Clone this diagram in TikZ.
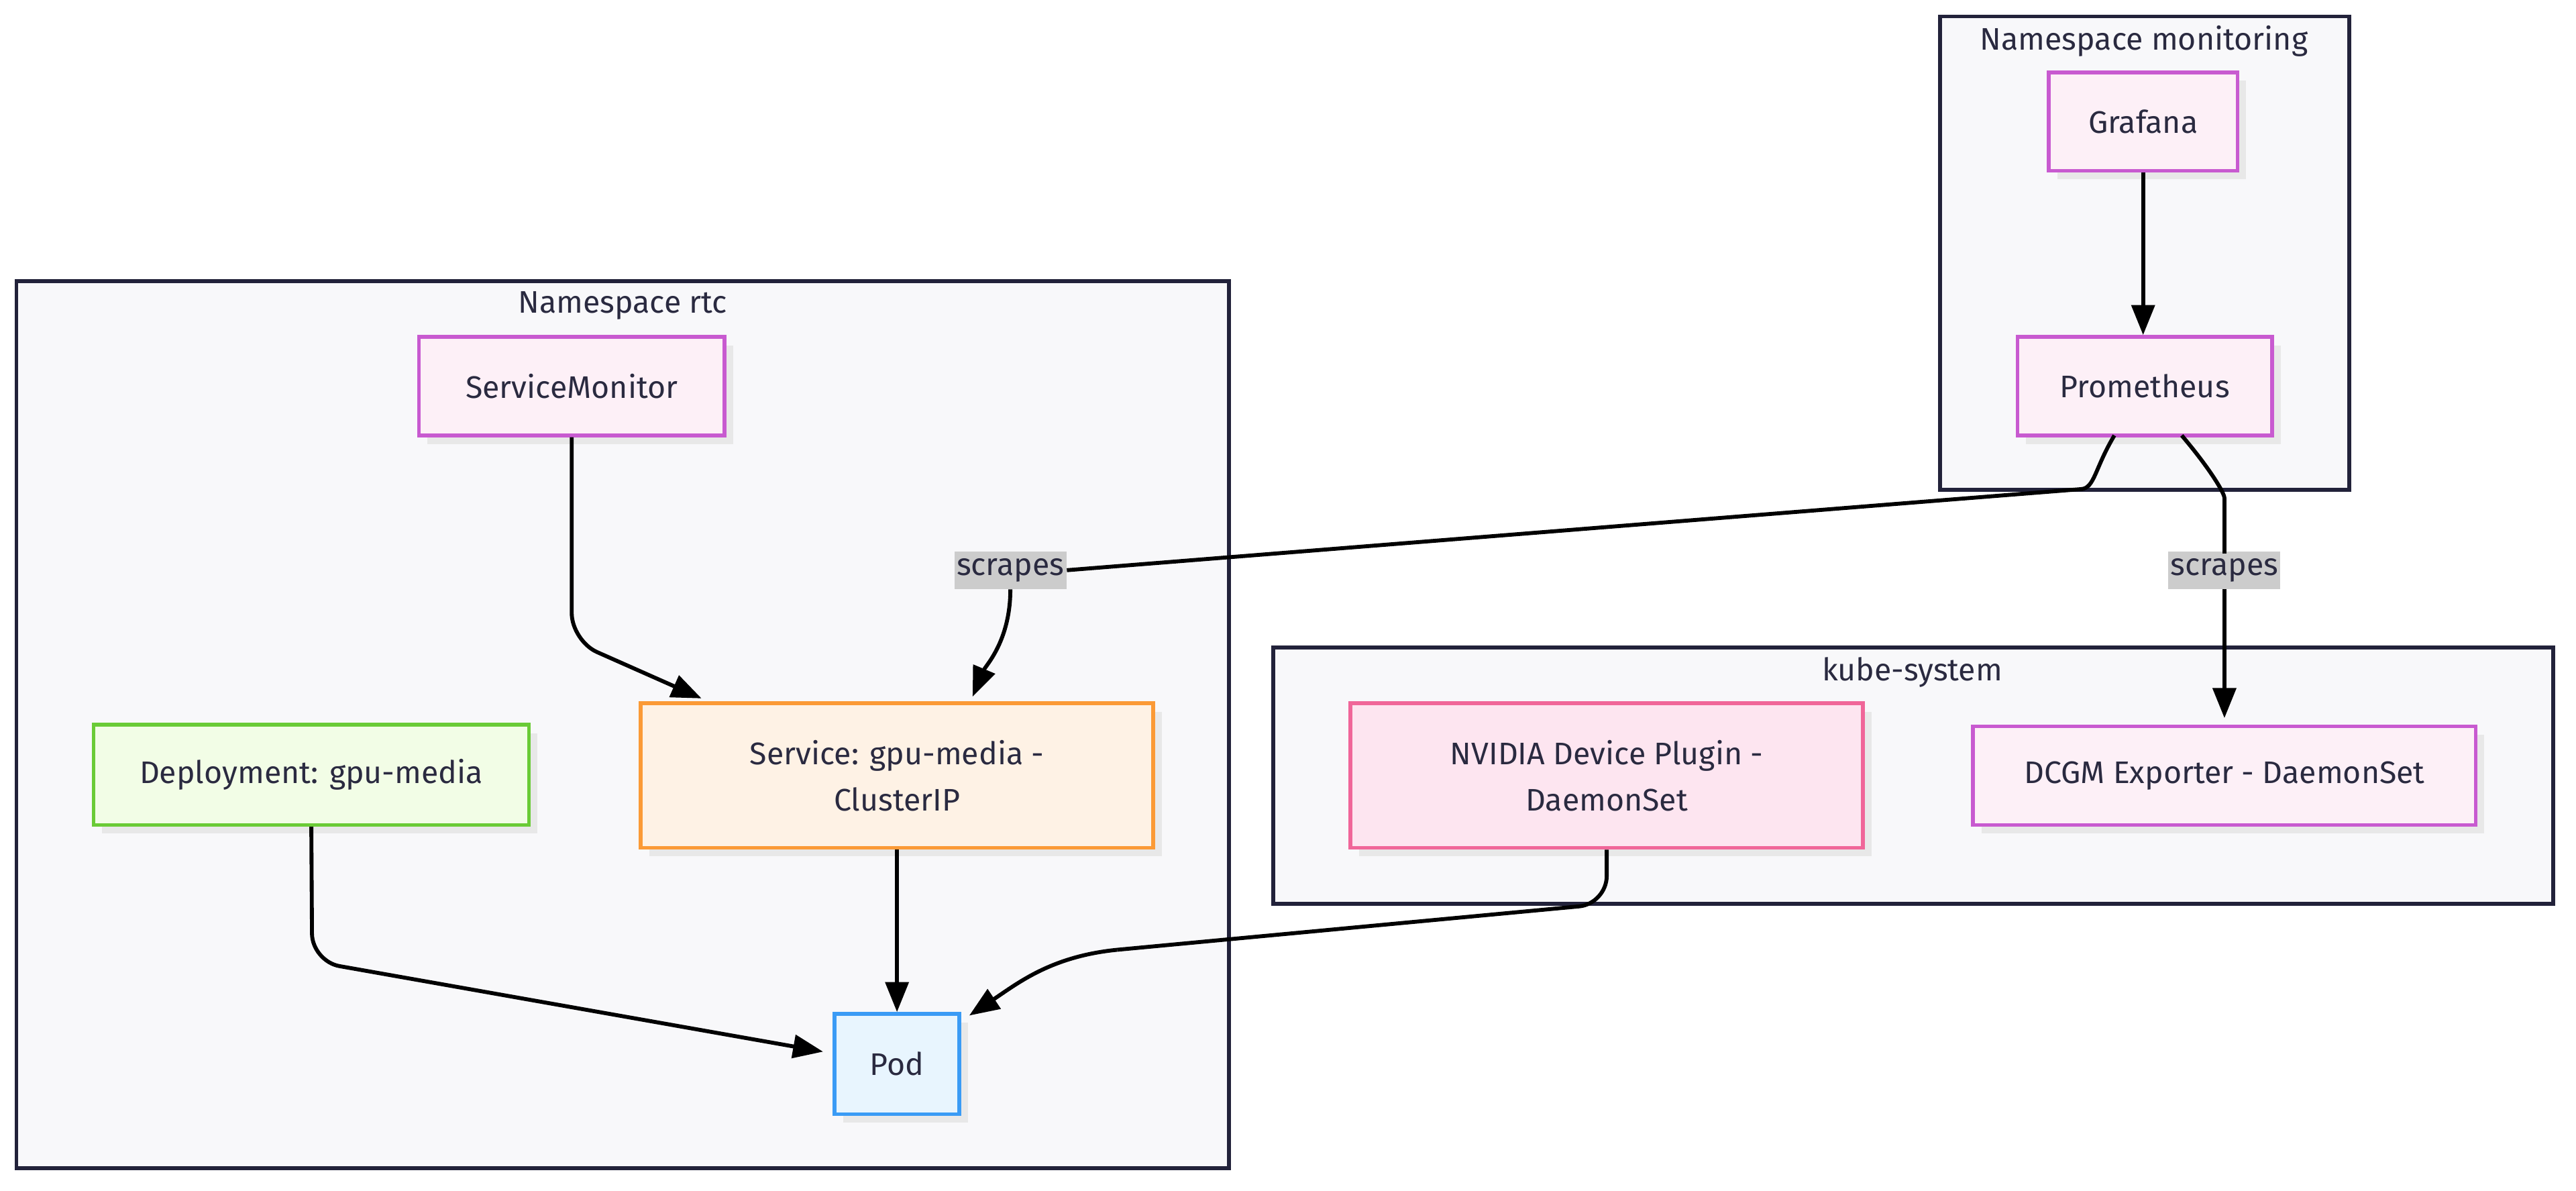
\documentclass[tikz,border=0pt]{standalone}
\usepackage{fontspec}
\setmainfont{Fira Sans}
\usetikzlibrary{arrows.meta,shadows}
\definecolor{txt}{HTML}{2A2A40}
\definecolor{frame}{HTML}{22223A}
\definecolor{framefill}{HTML}{F8F8FA}
\definecolor{purp}{HTML}{C85AD0}\definecolor{purpf}{HTML}{FDF0F7}
\definecolor{oran}{HTML}{FB9A36}\definecolor{oranf}{HTML}{FEF2E5}
\definecolor{gree}{HTML}{6ACB36}\definecolor{greef}{HTML}{F2FDE6}
\definecolor{blu}{HTML}{3A9BF5}\definecolor{bluf}{HTML}{E8F5FE}
\definecolor{pink}{HTML}{F06699}\definecolor{pinkf}{HTML}{FDE5F0}
\newcommand\mybox[7]{\node[#6, drop shadow={shadow xshift=0.13cm,shadow yshift=-0.13cm,fill=black!9,opacity=1},
  minimum width={(#4-#2)*0.025cm}, minimum height={(#5-#3)*0.025cm}] (#1) at ({(#2+#4)/2},{(#3+#5)/2}) {#7};}
\begin{document}
\begin{tikzpicture}[x=0.025cm,y=-0.025cm,
  every node/.style={font=\fontsize{13.5}{20}\selectfont, text=txt, align=center, inner sep=0pt},
  frm/.style={draw=frame, fill=framefill, line width=1.7pt},
  pu/.style={draw=purp, fill=purpf, line width=1.6pt},
  or/.style={draw=oran, fill=oranf, line width=1.6pt},
  gr/.style={draw=gree, fill=greef, line width=1.6pt},
  bl/.style={draw=blu, fill=bluf, line width=1.6pt},
  pk/.style={draw=pink, fill=pinkf, line width=1.6pt},
  ar/.style={line width=1.7pt, -{Triangle[length=13pt,width=10pt]}, rounded corners=12pt},
  ln/.style={line width=1.7pt, rounded corners=12pt},
  lab/.style={fill=black!20, inner xsep=1pt, inner ysep=3pt}]
\useasboundingbox (0,0) rectangle (1568,724.4);
\draw[frm] (10,171) rectangle (748,711);
\draw[frm] (1181,10) rectangle (1430,298);
\draw[frm] (775,394) rectangle (1554,550);
\node (t1) at (379,186) {Namespace rtc};
\node (t2) at (1305,25) {Namespace monitoring};
\node (t3) at (1164,409) {kube-system};
\mybox{graf}{1247}{44}{1362}{104}{pu}{Grafana}
\mybox{prom}{1228}{205}{1383}{265}{pu}{Prometheus}
\mybox{smon}{255}{205}{441}{265}{pu}{ServiceMonitor}
\mybox{svc}{390}{428}{702}{516}{or}{Service: gpu-media -\\ClusterIP}
\mybox{dep}{57}{441}{322}{502}{gr}{Deployment: gpu-media}
\mybox{pod}{508}{617}{584}{678}{bl}{Pod}
\mybox{nv}{822}{428}{1134}{516}{pk}{NVIDIA Device Plugin -\\DaemonSet}
\mybox{dcgm}{1201}{442}{1507}{502}{pu}{DCGM Exporter - DaemonSet}
\node[lab] (s1) at (615,347) {scrapes};
\node[lab] (s2) at (1354,347) {scrapes};
\coordinate (c1) at (1287,265);
\coordinate (c2) at (1328,265);
\draw[ar] (graf.south) -- (graf.south |- prom.north);
\draw[ln] (c1) .. controls (1275,285) and (1275,297) .. (1250,299) -- (s1.east);
\draw[ar] (s1.south) .. controls (615,390) and (600,405) .. (592,424);
\draw[ln] (c2) .. controls (1345,285) and (1354,300) .. (1354,320) -- (s2.north);
\draw[ar] (s2.south) -- (1354,437);
\draw[ar] (smon.south) -- (348,390) -- (427,425);
\draw[ar] (dep.south) -- (190,585) -- (501,640);
\draw[ar] (svc.south) -- (pod.north);
\draw[ln] (nv.south) -- (978,550) -- (680,578);
\draw[ar] (680,578) .. controls (640,582) and (620,598) .. (590,618);
\end{tikzpicture}
\end{document}
